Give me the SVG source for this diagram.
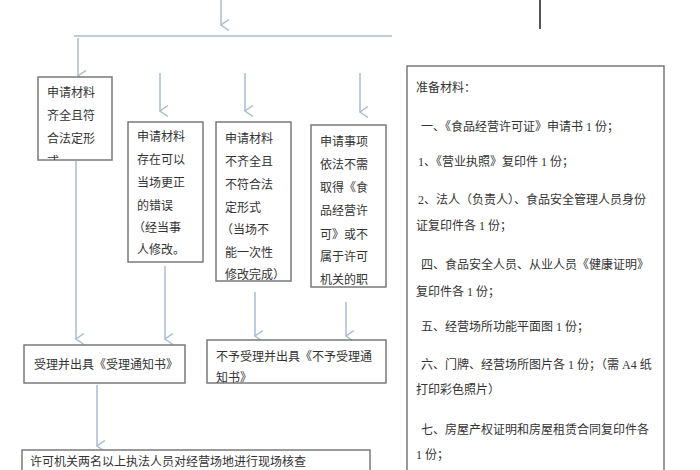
<svg xmlns="http://www.w3.org/2000/svg" width="700" height="470" viewBox="0 0 700 470">
<style>
.box{fill:#fff;stroke:#7a7a7a;stroke-width:1.5}
.t{font-family:"Liberation Serif","Noto Sans CJK SC",serif;font-size:12px;fill:#333}
.c{fill:none;stroke:#a9bdd1;stroke-width:1.5}
</style>
<defs>
<marker id="ah" markerWidth="12" markerHeight="10" refX="6" refY="9" orient="auto" markerUnits="userSpaceOnUse" viewBox="0 0 12 10">
<polyline points="0.5,1 6,9 11.5,1" fill="none" stroke="#a9bdd1" stroke-width="1.5"/>
</marker>
<clipPath id="cp1"><rect x="38" y="77" width="74" height="83"/></clipPath>
</defs>
<rect width="700" height="470" fill="#fff"/>
<g id="connectors">
<path class="c" d="M221,0 V25" marker-end="url(#ah)"/>
<path class="c" d="M74,36 H392"/>
<path class="c" d="M78,38 V76" marker-end="url(#ah)"/>
<path class="c" d="M160,73 V111" marker-end="url(#ah)"/>
<path class="c" d="M245,73 V111" marker-end="url(#ah)"/>
<path class="c" d="M360,73 V112" marker-end="url(#ah)"/>
<path class="c" d="M76,161 V339" marker-end="url(#ah)"/>
<path class="c" d="M165,266 V339" marker-end="url(#ah)"/>
<path class="c" d="M255,292 V336" marker-end="url(#ah)"/>
<path class="c" d="M346,302 V336" marker-end="url(#ah)"/>
<path class="c" d="M97,385 V446" marker-end="url(#ah)"/>
<path d="M540,0 V29" fill="none" stroke="#555" stroke-width="2"/>
</g>
<g id="n1">
<rect class="box" x="38" y="77" width="74" height="83"/>
<g clip-path="url(#cp1)">
<text class="t" x="47" y="97">申请材料</text>
<text class="t" x="47" y="120">齐全且符</text>
<text class="t" x="47" y="143">合法定形</text>
<text class="t" x="47" y="166">式</text>
</g>
</g>
<g id="n2">
<rect class="box" x="128" y="122" width="75" height="140"/>
<text class="t" x="137" y="141">申请材料</text>
<text class="t" x="137" y="164">存在可以</text>
<text class="t" x="137" y="187">当场更正</text>
<text class="t" x="137" y="210">的错误</text>
<text class="t" x="133" y="232">（经当事</text>
<text class="t" x="137" y="254">人修改。</text>
</g>
<g id="n3">
<rect class="box" x="216" y="122" width="75" height="159"/>
<text class="t" x="225" y="143">申请材料</text>
<text class="t" x="225" y="166">不齐全且</text>
<text class="t" x="225" y="189">不符合法</text>
<text class="t" x="225" y="212">定形式</text>
<text class="t" x="221" y="234">（当场不</text>
<text class="t" x="225" y="257">能一次性</text>
<text class="t" x="225" y="279">修改完成）</text>
</g>
<g id="n4">
<rect class="box" x="311" y="125" width="75" height="162"/>
<text class="t" x="320" y="146">申请事项</text>
<text class="t" x="320" y="169">依法不需</text>
<text class="t" x="320" y="192">取得《食</text>
<text class="t" x="320" y="215">品经营许</text>
<text class="t" x="320" y="239">可》或不</text>
<text class="t" x="320" y="261">属于许可</text>
<text class="t" x="320" y="284">机关的职</text>
</g>
<g id="n5">
<rect class="box" x="24" y="345" width="161" height="38"/>
<text class="t" x="34" y="369">受理并出具《受理通知书》</text>
</g>
<g id="n6">
<rect class="box" x="207" y="340" width="179" height="43"/>
<text class="t" x="216" y="361">不予受理并出具《不予受理通</text>
<text class="t" x="216" y="382">知书》</text>
</g>
<g id="n7">
<rect class="box" x="22" y="450" width="348" height="30"/>
<text class="t" x="30" y="466">许可机关两名以上执法人员对经营场地进行现场核查</text>
</g>
<g id="n8">
<rect class="box" x="407" y="66" width="257" height="420"/>
<text class="t" x="416" y="92">准备材料：</text>
<text class="t" x="421" y="131">一、《食品经营许可证》申请书 1 份；</text>
<text class="t" x="418" y="166">1、《营业执照》复印件 1 份；</text>
<text class="t" x="418" y="204">2、法人（负责人）、食品安全管理人员身份</text>
<text class="t" x="416" y="230">证复印件各 1 份；</text>
<text class="t" x="421" y="269">四、食品安全人员、从业人员《健康证明》</text>
<text class="t" x="416" y="296">复印件各 1 份；</text>
<text class="t" x="421" y="331">五、经营场所功能平面图 1 份；</text>
<text class="t" x="421" y="369">六、门牌、经营场所图片各 1 份；（需 A4 纸</text>
<text class="t" x="416" y="394">打印彩色照片）</text>
<text class="t" x="421" y="434">七、房屋产权证明和房屋租赁合同复印件各</text>
<text class="t" x="416" y="459">1 份；</text>
</g>
</svg>
